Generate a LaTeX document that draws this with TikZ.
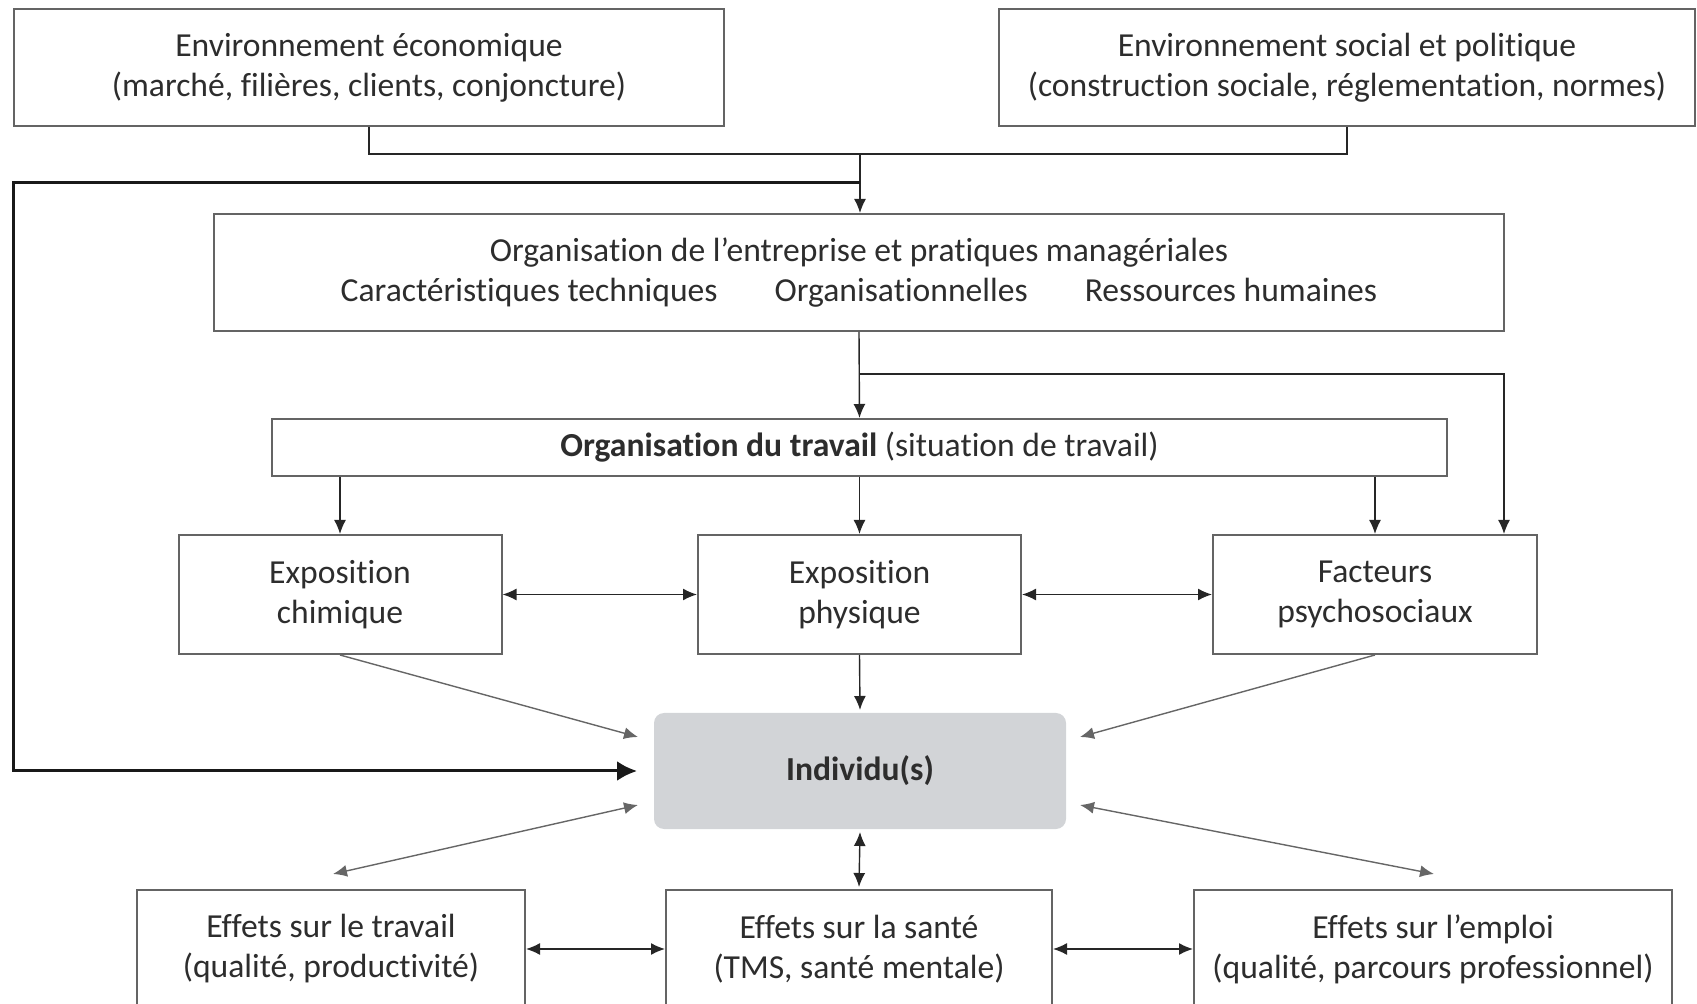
\documentclass[tikz,border=0pt]{standalone}
\usepackage{fontspec}
\setmainfont[Ligatures={NoCommon}]{Carlito}
\usepackage{tikz}
\usetikzlibrary{arrows.meta}
\definecolor{txtgray}{RGB}{45,45,45}
\definecolor{linegray}{RGB}{100,100,100}
\definecolor{indfill}{RGB}{210,212,215}

\begin{document}
\begin{tikzpicture}[x=0.5pt,y=-0.5pt]
	\useasboundingbox (0,0) rectangle (1697,1004);
	\tikzstyle{every node}=[text=txtgray,font=\fontsize{16.8}{20}\selectfont,align=center]
	\tikzstyle{box}=[draw=linegray,line width=1pt,fill=white,inner sep=0pt,minimum height=58.5pt]
	\tikzstyle{link}=[draw=black!85,line width=1pt]
	\tikzstyle{arr}=[draw=black!85,line width=0.7pt,-{Latex[length=7pt,width=6pt]}]
	\tikzstyle{darr}=[arr,{Latex[length=7pt,width=6pt]}-{Latex[length=7pt,width=6pt]}]
	\tikzstyle{diag}=[darr,draw=black!60]
	% contexte
	\node[box,minimum width=355pt] (eco) at (369,67.5) {Environnement économique\\(marché, filières, clients, conjoncture)};
	\node[box,minimum width=348pt] (soc) at (1347,67.5) {Environnement social et politique\\(construction sociale, réglementation, normes)};
	\node[box,minimum width=645pt] (ent) at (859,272.5) {Organisation de l’entreprise et pratiques managériales\\Caractéristiques techniques\hspace{1.7em}Organisationnelles\hspace{1.7em}Ressources humaines};
	\node[box,minimum width=587.5pt,minimum height=28.5pt] (trav) at (859.5,447.5) {\textbf{Organisation du travail} (situation de travail)};
	% expositions
	\node[box,minimum width=161.5pt,minimum height=59.5pt] (chim) at (340,594.5) {Exposition\\chimique};
	\node[box,minimum width=161.5pt,minimum height=59.5pt] (phys) at (859.5,594.5) {Exposition\\physique};
	\node[box,minimum width=162pt,minimum height=59.5pt] (psy) at (1375,594.5) {Facteurs\\psychosociaux};
	\node[box,draw=none,fill=indfill,rounded corners=5pt,minimum width=206pt,minimum height=58pt] (ind) at (860,771) {\textbf{Individu(s)}};
	% effets
	\node[box,minimum width=194pt,minimum height=59pt] (etrav) at (331,949) {Effets sur le travail\\(qualité, productivité)};
	\node[box,minimum width=193pt,minimum height=59pt] (esan) at (859,949) {Effets sur la santé\\(TMS, santé mentale)};
	\node[box,minimum width=239pt,minimum height=59pt] (eemp) at (1433,949) {Effets sur l’emploi\\(qualité, parcours professionnel)};
	\coordinate (j1) at (860,154);
	\coordinate (j2) at (860,183);
	\coordinate (l1) at (13,183);
	\coordinate (e1) at (860,374);
	\coordinate (e2) at (1504,374);
	\coordinate (i1) at (638,737);
	\coordinate (i2) at (1080,737);
	\coordinate (i3) at (638,805);
	\coordinate (i4) at (1080,805);
	\coordinate (t1) at (333,874);
	\coordinate (t2) at (1434,874);
	\draw[link] (eco.south) |- (j1) (soc.south) |- (j1);
	\draw[arr] (j1) -- (j1 |- ent.north);
	\draw[draw=black!90,line width=1.5pt,-{Latex[length=10pt,width=10pt]}] (j2) -- (l1) |- ([xshift=-8pt]ind.west);
	\draw[arr] (ent.south) -- (trav.north);
	\draw[arr] (e1) -- (e2) -- (e2 |- psy.north);
	\draw[arr] (trav.south -| chim.north) -- (chim.north);
	\draw[arr] (trav.south -| phys.north) -- (phys.north);
	\draw[arr] (trav.south -| psy.north) -- (psy.north);
	\draw[darr] (chim.east) -- (phys.west);
	\draw[darr] (phys.east) -- (psy.west);
	\draw[arr,draw=black!60] (chim.south) -- (i1);
	\draw[arr,draw=black!60] (psy.south) -- (i2);
	\draw[arr] (phys.south) -- ([yshift=1pt]ind.north);
	\draw[diag] (i3) -- (t1);
	\draw[diag] (i4) -- (t2);
	\draw[darr] ([yshift=-1pt]ind.south) -- ([yshift=1pt]esan.north);
	\draw[darr] (etrav.east) -- (esan.west);
	\draw[darr] (esan.east) -- (eemp.west);
\end{tikzpicture}
\end{document}
